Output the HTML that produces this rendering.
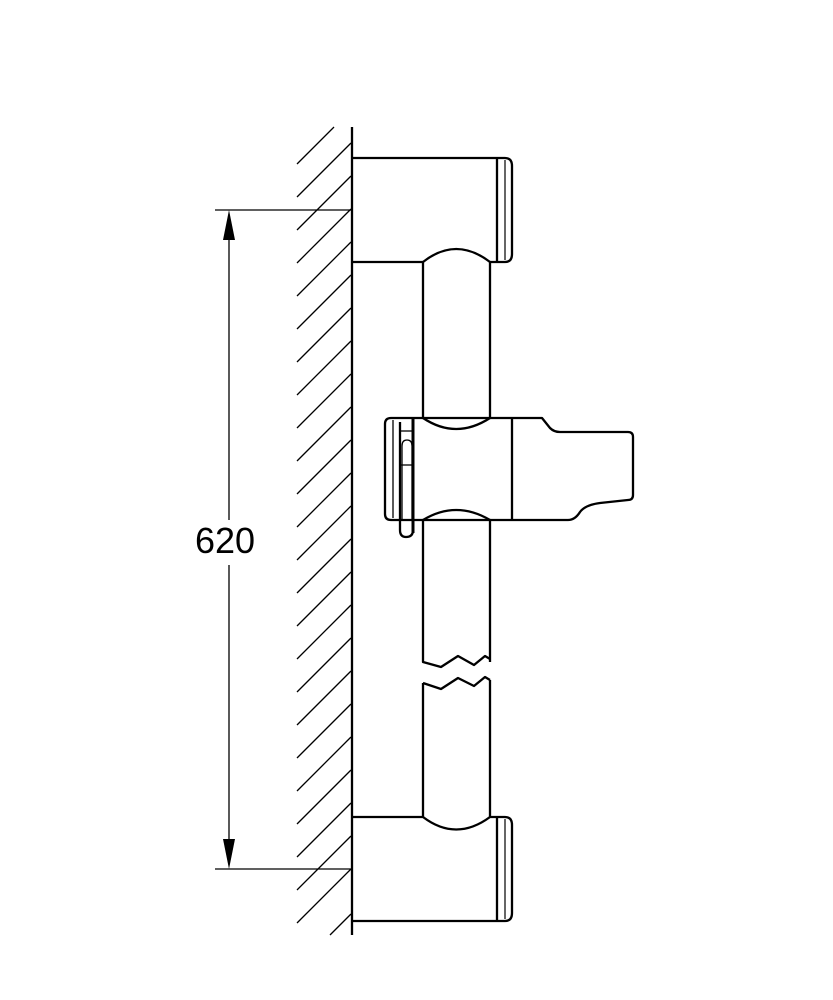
<!DOCTYPE html>
<html><head><style>body{margin:0;background:#fff}svg{display:block}</style></head><body>
<svg width="833" height="1000" viewBox="0 0 833 1000" xmlns="http://www.w3.org/2000/svg">
<g stroke="#000" stroke-width="1.3" fill="none">
<line x1="297" y1="164" x2="334" y2="127"/>
<line x1="297" y1="197" x2="351" y2="143"/><line x1="297" y1="230" x2="351" y2="176"/><line x1="297" y1="263" x2="351" y2="209"/><line x1="297" y1="296" x2="351" y2="242"/><line x1="297" y1="329" x2="351" y2="275"/><line x1="297" y1="362" x2="351" y2="308"/><line x1="297" y1="395" x2="351" y2="341"/><line x1="297" y1="428" x2="351" y2="374"/><line x1="297" y1="461" x2="351" y2="407"/><line x1="297" y1="494" x2="351" y2="440"/><line x1="297" y1="527" x2="351" y2="473"/><line x1="297" y1="560" x2="351" y2="506"/><line x1="297" y1="593" x2="351" y2="539"/><line x1="297" y1="626" x2="351" y2="572"/><line x1="297" y1="659" x2="351" y2="605"/><line x1="297" y1="692" x2="351" y2="638"/><line x1="297" y1="725" x2="351" y2="671"/><line x1="297" y1="758" x2="351" y2="704"/><line x1="297" y1="791" x2="351" y2="737"/><line x1="297" y1="824" x2="351" y2="770"/><line x1="297" y1="857" x2="351" y2="803"/><line x1="297" y1="890" x2="351" y2="836"/><line x1="297" y1="923" x2="351" y2="869"/><line x1="330" y1="935" x2="351" y2="914"/>
<line x1="215" y1="210" x2="352" y2="210"/>
<line x1="215" y1="869" x2="352" y2="869"/>
<line x1="229" y1="230" x2="229" y2="520"/>
<line x1="229" y1="565" x2="229" y2="850"/>
</g>
<polygon points="229,210 223,240 235,240" fill="#000"/>
<polygon points="229,869 223,839 235,839" fill="#000"/>
<text x="225" y="553" font-family="Liberation Sans, sans-serif" font-size="36" text-anchor="middle">620</text>
<g stroke="#000" stroke-width="2.3" fill="none" stroke-linejoin="round">
<line x1="352" y1="127" x2="352" y2="935"/>
<!-- top bracket -->
<path d="M352 158 H505 Q512 158 512 166 V254 Q512 262 505 262 H490 M423 262 H352"/>
<line x1="497" y1="158" x2="497" y2="262"/>
<path d="M423 262 Q456 236 490 262"/>
<!-- bar upper -->
<path d="M423 262 V418 M490 262 V418"/>
<path d="M423 418 Q456 440 490 418"/>
<!-- slider -->
<path d="M414 418 H512 M414 520 H512"/>
<path d="M423 520 Q456 500 490 520"/>
<line x1="512" y1="418" x2="512" y2="520"/>
<path d="M512 418 H542 L550 428 Q554 432 560 432 H628 Q633 432 633 437 V495 Q633 500 628 500 L600 503 Q585 505 580 512 Q575 520 568 520 H512"/>
<path d="M414 418 H391 Q385 418 385 424 V514 Q385 520 391 520 H414"/>
<line x1="393" y1="420" x2="393" y2="518" stroke-width="1.3"/>
<line x1="413" y1="418" x2="413" y2="533" stroke-width="3"/>
<path d="M400 422 V530 Q400 537 406 537 Q413 537 413 530"/>
<path d="M402 446 Q402 440 407 440 Q412 440 412 446 V520 M402 446 V520" stroke-width="1.3"/>
<line x1="401" y1="431" x2="412" y2="431" stroke-width="1.3"/>
<line x1="401" y1="465" x2="412" y2="465" stroke-width="1.3"/>
<!-- bar lower with breaks -->
<path d="M423 520 V662 L441 667 L458 656 L474 665 L485 656 L490 659 M490 520 V662"/>
<path d="M423 683 L441 689 L458 678 L474 686 L485 677 L490 680 M423 683 V817 M490 680 V817"/>
<!-- bottom bracket -->
<path d="M352 817 H423 Q456 842 490 817 H505 Q512 817 512 825 V913 Q512 921 505 921 H352"/>
<line x1="497" y1="817" x2="497" y2="921"/>
</g>
<line x1="505" y1="160" x2="505" y2="260" stroke="#000" stroke-width="1.2"/>
<line x1="505" y1="819" x2="505" y2="919" stroke="#000" stroke-width="1.2"/>
</svg>
</body></html>
